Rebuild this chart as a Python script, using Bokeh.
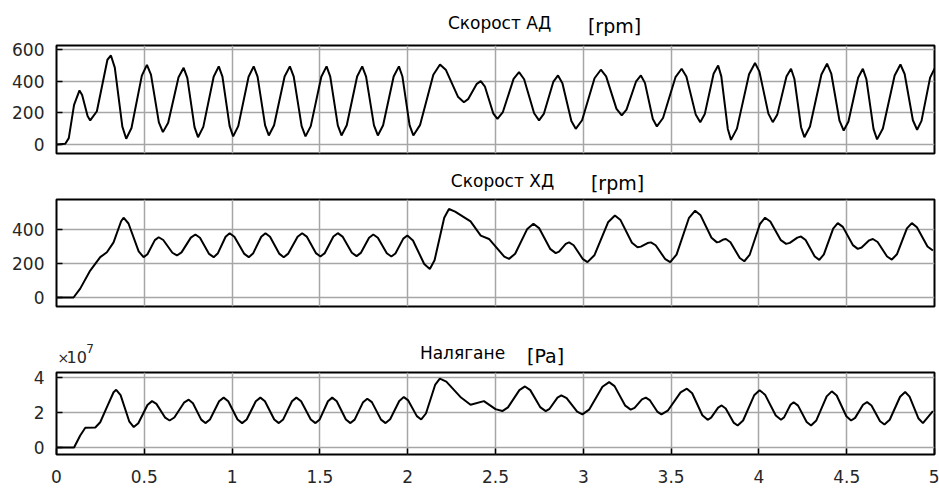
from bokeh.plotting import figure
from bokeh.layouts import column
from bokeh.models import FixedTicker, Range1d, ColumnDataSource
from bokeh.core.properties import value
from bokeh.embed import file_html
from bokeh.resources import INLINE

# ---- data ----
x_ticks = [0, 0.5, 1, 1.5, 2, 2.5, 3, 3.5, 4, 4.5, 5]
x_tick_labels = ["0", "0.5", "1", "1.5", "2", "2.5", "3", "3.5", "4", "4.5", "5"]

# Panel 1: Скорост АД [rpm]
t_ad = [0, 0.05, 0.07, 0.1, 0.131, 0.146, 0.177, 0.192, 0.23, 0.29, 0.31,
        0.332, 0.375, 0.397, 0.427, 0.486, 0.515, 0.538, 0.583, 0.606, 0.636, 0.695, 0.724,
        0.745, 0.786, 0.806, 0.836, 0.895, 0.924, 0.945, 0.986, 1.006, 1.035, 1.094, 1.123,
        1.145, 1.188, 1.209, 1.239, 1.299, 1.329, 1.351, 1.396, 1.418, 1.448, 1.508, 1.538,
        1.559, 1.602, 1.623, 1.653, 1.712, 1.741, 1.763, 1.808, 1.83, 1.86, 1.92, 1.95,
        1.97, 2.011, 2.032, 2.07, 2.146, 2.184, 2.218, 2.286, 2.32, 2.344, 2.392, 2.416,
        2.44, 2.487, 2.511, 2.542, 2.603, 2.634, 2.663, 2.72, 2.748, 2.775, 2.829, 2.856,
        2.881, 2.932, 2.957, 2.993, 3.064, 3.1, 3.13, 3.189, 3.219, 3.246, 3.301, 3.328,
        3.351, 3.396, 3.419, 3.454, 3.525, 3.56, 3.587, 3.64, 3.666, 3.692, 3.742, 3.768,
        3.786, 3.823, 3.841, 3.875, 3.944, 3.978, 4.003, 4.054, 4.079, 4.105, 4.157, 4.183,
        4.202, 4.24, 4.259, 4.291, 4.356, 4.388, 4.412, 4.459, 4.483, 4.51, 4.565, 4.592,
        4.612, 4.653, 4.673, 4.706, 4.773, 4.806, 4.83, 4.877, 4.901, 4.926, 4.975, 5.0]
v_ad = [0, 5, 40, 250, 341, 313, 180, 152, 210, 535, 562,
        485, 113, 36, 104, 435, 503, 441, 140, 78, 137, 425, 484,
        420, 110, 46, 111, 428, 493, 428, 116, 51, 116, 428, 493,
        429, 121, 57, 121, 429, 493, 428, 116, 51, 116, 428, 493,
        429, 121, 57, 121, 429, 493, 429, 121, 57, 121, 429, 493,
        429, 121, 57, 122, 440, 505, 470, 302, 267, 286, 381, 400,
        365, 197, 162, 205, 414, 457, 412, 197, 152, 193, 395, 436,
        387, 148, 99, 153, 418, 472, 430, 225, 183, 220, 399, 436,
        389, 161, 114, 167, 425, 478, 429, 190, 141, 193, 447, 499,
        430, 98, 29, 100, 443, 514, 460, 195, 141, 190, 429, 478,
        415, 109, 46, 114, 442, 510, 448, 150, 88, 145, 421, 478,
        413, 97, 32, 101, 436, 505, 445, 153, 93, 149, 422, 478]
ad_yticks = [0, 200, 400, 600]

# Panel 2: Скорост ХД [rpm]
t_hd = [0, 0.097, 0.135, 0.192, 0.249, 0.287, 0.325, 0.368, 0.382, 0.41, 0.468, 0.496,
        0.518, 0.56, 0.582, 0.608, 0.66, 0.686, 0.712, 0.765, 0.791, 0.817, 0.869, 0.895,
        0.918, 0.963, 0.986, 1.013, 1.068, 1.095, 1.119, 1.166, 1.19, 1.216, 1.268, 1.294,
        1.32, 1.373, 1.399, 1.425, 1.477, 1.503, 1.528, 1.577, 1.602, 1.629, 1.682, 1.709,
        1.733, 1.78, 1.804, 1.83, 1.881, 1.907, 1.93, 1.975, 1.998, 2.03, 2.094, 2.126,
        2.153, 2.208, 2.235, 2.27, 2.358, 2.416, 2.463, 2.55, 2.577, 2.612, 2.681, 2.716,
        2.748, 2.811, 2.843, 2.862, 2.9, 2.919, 2.945, 2.998, 3.024, 3.063, 3.141, 3.18,
        3.212, 3.277, 3.309, 3.328, 3.366, 3.385, 3.412, 3.467, 3.495, 3.531, 3.601, 3.637,
        3.668, 3.73, 3.761, 3.774, 3.799, 3.812, 3.838, 3.891, 3.917, 3.947, 4.006, 4.035,
        4.065, 4.125, 4.155, 4.176, 4.219, 4.24, 4.266, 4.318, 4.344, 4.37, 4.423, 4.449,
        4.478, 4.535, 4.563, 4.585, 4.628, 4.649, 4.676, 4.73, 4.757, 4.786, 4.843, 4.871,
        4.9, 4.96, 4.991]
v_hd = [0, 0, 52, 158, 237, 266, 324, 448, 469, 435, 271, 237,
        254, 337, 354, 338, 263, 247, 265, 352, 370, 351, 256, 237,
        258, 357, 378, 357, 258, 237, 258, 357, 378, 357, 258, 237,
        258, 357, 378, 358, 261, 241, 261, 358, 378, 358, 263, 243,
        262, 351, 370, 351, 260, 241, 259, 346, 364, 335, 197, 168,
        219, 469, 520, 505, 447, 364, 344, 240, 227, 257, 403, 433,
        408, 286, 261, 270, 315, 324, 307, 225, 208, 248, 442, 482,
        455, 322, 295, 299, 320, 324, 307, 225, 208, 252, 466, 510,
        483, 351, 324, 327, 341, 344, 325, 232, 213, 250, 432, 469,
        447, 337, 315, 321, 352, 358, 338, 241, 221, 253, 405, 437,
        415, 308, 286, 294, 336, 344, 326, 241, 223, 254, 406, 437,
        413, 300, 276]
hd_yticks = [0, 200, 400]

# Panel 3: Налягане [Pa]
t_p = [0, 0.1, 0.135, 0.164, 0.221, 0.249, 0.287, 0.325, 0.34, 0.365, 0.415, 0.44,
       0.466, 0.518, 0.544, 0.569, 0.619, 0.644, 0.671, 0.726, 0.753, 0.777, 0.824, 0.848,
       0.874, 0.926, 0.952, 0.978, 1.031, 1.057, 1.083, 1.135, 1.161, 1.187, 1.24, 1.266,
       1.291, 1.341, 1.366, 1.393, 1.448, 1.475, 1.499, 1.546, 1.57, 1.596, 1.648, 1.674,
       1.698, 1.746, 1.77, 1.796, 1.848, 1.874, 1.9, 1.952, 1.978, 2.003, 2.052, 2.077,
       2.104, 2.157, 2.183, 2.22, 2.3, 2.358, 2.434, 2.5, 2.539, 2.571, 2.636, 2.668,
       2.698, 2.756, 2.786, 2.808, 2.853, 2.875, 2.905, 2.965, 2.995, 3.033, 3.109, 3.147,
       3.178, 3.239, 3.27, 3.292, 3.334, 3.356, 3.378, 3.423, 3.445, 3.481, 3.554, 3.59,
       3.62, 3.678, 3.708, 3.728, 3.768, 3.788, 3.811, 3.856, 3.879, 3.91, 3.973, 4.004,
       4.035, 4.096, 4.126, 4.144, 4.18, 4.198, 4.223, 4.272, 4.297, 4.327, 4.386, 4.415,
       4.443, 4.498, 4.525, 4.548, 4.593, 4.616, 4.641, 4.69, 4.715, 4.745, 4.804, 4.833,
       4.858, 4.909, 4.934, 4.991]
v_p = [0, 0, 0.69e7, 1.13e7, 1.15e7, 1.45e7, 2.32e7, 3.17e7, 3.31e7, 3.0e7, 1.48e7, 1.17e7,
       1.39e7, 2.44e7, 2.66e7, 2.50e7, 1.71e7, 1.55e7, 1.72e7, 2.57e7, 2.74e7, 2.54e7, 1.60e7, 1.40e7,
       1.61e7, 2.65e7, 2.86e7, 2.65e7, 1.61e7, 1.40e7, 1.61e7, 2.65e7, 2.86e7, 2.65e7, 1.61e7, 1.40e7,
       1.61e7, 2.65e7, 2.86e7, 2.65e7, 1.61e7, 1.40e7, 1.61e7, 2.65e7, 2.86e7, 2.65e7, 1.61e7, 1.40e7,
       1.60e7, 2.60e7, 2.80e7, 2.60e7, 1.60e7, 1.40e7, 1.62e7, 2.67e7, 2.89e7, 2.70e7, 1.80e7, 1.61e7,
       1.95e7, 3.61e7, 3.95e7, 3.78e7, 2.90e7, 2.45e7, 2.66e7, 2.20e7, 2.09e7, 2.30e7, 3.29e7, 3.50e7,
       3.29e7, 2.30e7, 2.09e7, 2.22e7, 2.86e7, 2.99e7, 2.83e7, 2.06e7, 1.90e7, 2.17e7, 3.48e7, 3.75e7,
       3.52e7, 2.40e7, 2.17e7, 2.27e7, 2.76e7, 2.86e7, 2.72e7, 2.04e7, 1.90e7, 2.11e7, 3.16e7, 3.37e7,
       3.11e7, 1.85e7, 1.59e7, 1.71e7, 2.29e7, 2.41e7, 2.24e7, 1.43e7, 1.26e7, 1.55e7, 2.99e7, 3.28e7,
       3.03e7, 1.84e7, 1.59e7, 1.74e7, 2.45e7, 2.60e7, 2.40e7, 1.46e7, 1.26e7, 1.55e7, 2.93e7, 3.22e7,
       2.98e7, 1.79e7, 1.55e7, 1.70e7, 2.45e7, 2.60e7, 2.41e7, 1.51e7, 1.32e7, 1.59e7, 2.91e7, 3.18e7,
       2.92e7, 1.66e7, 1.40e7, 2.09e7]
p_yticks = [0, 2e7, 4e7]
p_ytick_labels = ["0", "2", "4"]

FONT = "DejaVu Sans"
TICK_COLOR = "#262626"
LEFT, RIGHT, FRAME_W = 56, 5, 878


def make_fig(t, v, yr, yticks, top, fh, bottom, show_x, ylabels):
    p = figure(frame_width=FRAME_W, frame_height=fh,
               x_range=Range1d(0, 5), y_range=Range1d(*yr),
               output_backend="svg", toolbar_location=None,
               min_border_left=LEFT, min_border_right=RIGHT,
               min_border_top=top, min_border_bottom=bottom)
    p.background_fill_color = "white"
    p.border_fill_color = "white"
    p.outline_line_color = "black"
    p.outline_line_width = 2

    for ax in (p.xaxis[0], p.yaxis[0]):
        ax.axis_line_color = None
        ax.major_tick_in = 6
        ax.major_tick_out = 0
        ax.major_tick_line_color = "black"
        ax.major_tick_line_width = 1.5
        ax.minor_tick_line_color = None
        ax.major_label_text_font = FONT
        ax.major_label_text_font_size = "17px"
        ax.major_label_text_color = TICK_COLOR

    p.xaxis.ticker = FixedTicker(ticks=x_ticks)
    if show_x:
        p.xaxis.major_label_overrides = {tk: lb for tk, lb in zip(x_ticks, x_tick_labels)}
        p.xaxis.major_label_standoff = 15
    else:
        p.xaxis.visible = False

    p.yaxis.ticker = FixedTicker(ticks=yticks)
    p.yaxis.major_label_standoff = 12
    p.yaxis.major_label_overrides = {tk: lb for tk, lb in zip(yticks, ylabels)}

    p.xgrid.ticker = FixedTicker(ticks=x_ticks)
    p.ygrid.ticker = FixedTicker(ticks=yticks)
    for g in (p.xgrid[0], p.ygrid[0]):
        g.grid_line_color = "#a6a6a6"
        g.grid_line_width = 1.5

    src = ColumnDataSource(dict(t=t, v=v))
    p.line("t", "v", source=src, line_color="black", line_width=2)
    return p


def make_header(h, items):
    """items: (x_in_time_units, y_px_from_bottom, text, size, align, color)"""
    p = figure(frame_width=FRAME_W, frame_height=h,
               x_range=Range1d(0, 5), y_range=Range1d(0, h),
               output_backend="svg", toolbar_location=None,
               x_axis_type=None, y_axis_type=None,
               min_border_left=LEFT, min_border_right=RIGHT,
               min_border_top=0, min_border_bottom=0)
    p.outline_line_color = None
    p.background_fill_color = "white"
    p.border_fill_color = "white"
    p.grid.visible = False
    for (x, y, txt, size, align, color) in items:
        p.text(x=[x], y=[y], text=[txt], text_font=value(FONT), text_font_size=size,
               text_align=align, text_baseline="middle", text_color=color)
    return p


h1 = make_header(36, [(2.523, 14, "Скорост АД", "17px", "center", "black"),
                      (3.178, 11, "[rpm]", "19px", "center", "black")])
p1 = make_fig(t_ad, v_ad, (-57, 625), ad_yticks, 9, 108, 12, False,
              [str(v) for v in ad_yticks])

h2 = make_header(29, [(2.54, 14, "Скорост ХД", "17px", "center", "black"),
                      (3.195, 12, "[rpm]", "19px", "center", "black")])
p2 = make_fig(t_hd, v_hd, (-53, 576), hd_yticks, 5, 107, 20, False,
              [str(v) for v in hd_yticks])

h3 = make_header(40, [(2.312, 14, "Налягане", "17px", "center", "black"),
                      (2.785, 11, "[Pa]", "19px", "center", "black"),
                      (0.006, 9, "×", "14px", "left", TICK_COLOR),
                      (0.057, 10, "10", "16px", "left", TICK_COLOR),
                      (0.17, 18, "7", "12px", "left", TICK_COLOR)])
p3 = make_fig(t_p, v_p, (-0.4e7, 4.3e7), p_yticks, 6, 82, 34, True, p_ytick_labels)

layout = column(h1, p1, h2, p2, h3, p3, spacing=0)
open("out.html", "w").write(file_html(layout, INLINE))
